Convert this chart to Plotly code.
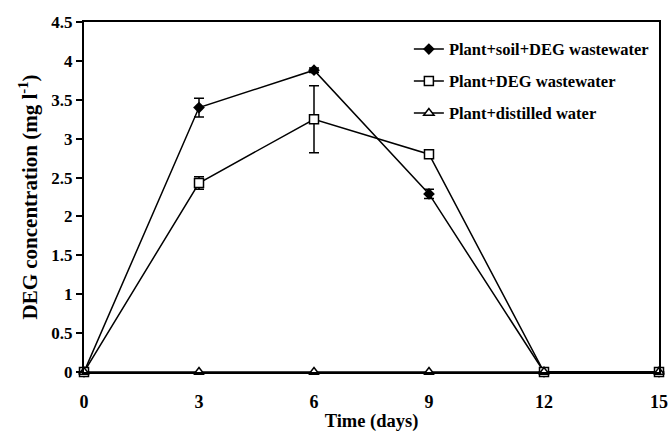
import plotly.graph_objects as go

days = [0, 3, 6, 9, 12, 15]
soil_deg = [0, 3.40, 3.88, 2.29, 0, 0]
soil_deg_err = [0, 0.12, 0.03, 0.06, 0, 0]
plant_deg = [0, 2.43, 3.25, 2.80, 0, 0]
plant_deg_err = [0, 0.08, 0.43, 0.03, 0, 0]
distilled = [0, 0, 0, 0, 0, 0]

names = ["Plant+soil+DEG wastewater", "Plant+DEG wastewater", "Plant+distilled water"]
x_ticks = [0, 3, 6, 9, 12, 15]
y_ticks = [0, 0.5, 1, 1.5, 2, 2.5, 3, 3.5, 4, 4.5]

font_fam = "Liberation Serif"

fig = go.Figure()
fig.add_trace(go.Scatter(
    x=days, y=soil_deg, name=names[0], mode="lines+markers", legendgroup="a",
    line=dict(color="black", width=1.5),
    marker=dict(symbol="diamond", size=9, color="black"),
    error_y=dict(type="data", array=soil_deg_err, color="black", thickness=1.5, width=5),
    cliponaxis=False,
))
fig.add_trace(go.Scatter(
    x=days, y=plant_deg, name=names[1], mode="lines+markers", legendgroup="b",
    line=dict(color="black", width=1.5),
    marker=dict(symbol="square", size=9, color="white", line=dict(color="black", width=1.5)),
    error_y=dict(type="data", array=plant_deg_err, color="black", thickness=1.5, width=5),
    cliponaxis=False,
))
fig.add_trace(go.Scatter(
    x=days, y=distilled, name=names[2], mode="lines+markers", legendgroup="c",
    line=dict(color="black", width=1.5),
    marker=dict(symbol="triangle-up", size=9, color="white", line=dict(color="black", width=1.5)),
    cliponaxis=False,
))

fig.update_layout(
    width=670, height=433,
    margin=dict(l=84, r=11, t=22, b=61, autoexpand=False),
    paper_bgcolor="white", plot_bgcolor="white",
    font=dict(family=font_fam, color="black", size=17),
    showlegend=True,
    legend=dict(
        x=0.565, y=0.972, xanchor="left", yanchor="top",
        bgcolor="rgba(0,0,0,0)", borderwidth=0,
        font=dict(family=font_fam, size=16.5, color="black", weight="bold"),
        traceorder="grouped", tracegroupgap=7.5,
    ),
    xaxis=dict(
        range=[0, 15], tickvals=x_ticks, ticktext=[str(v) for v in x_ticks],
        showgrid=False, zeroline=False, showline=True, linecolor="black", linewidth=2,
        mirror=True, ticks="", automargin=False, ticklabelstandoff=12,
        tickfont=dict(family=font_fam, size=18, weight="bold"),
        title=dict(text="Time (days)", font=dict(family=font_fam, size=18.5, weight="bold"), standoff=3),
    ),
    yaxis=dict(
        range=[0, 4.5], tickvals=y_ticks, ticktext=[f"{v:g}" for v in y_ticks],
        showgrid=False, zeroline=False, showline=True, linecolor="black", linewidth=2,
        mirror=True, ticks="outside", ticklen=6, tickwidth=1.5, tickcolor="black",
        automargin=False,
        tickfont=dict(family=font_fam, size=17, weight="bold"),
        title=dict(text="DEG concentration (mg l<sup>-1</sup>)", font=dict(family=font_fam, size=21, weight="bold"), standoff=8),
    ),
)

fig.write_html("out.html", config={"displayModeBar": False},
               post_script="document.body.style.margin='0';document.body.style.padding='0';")
